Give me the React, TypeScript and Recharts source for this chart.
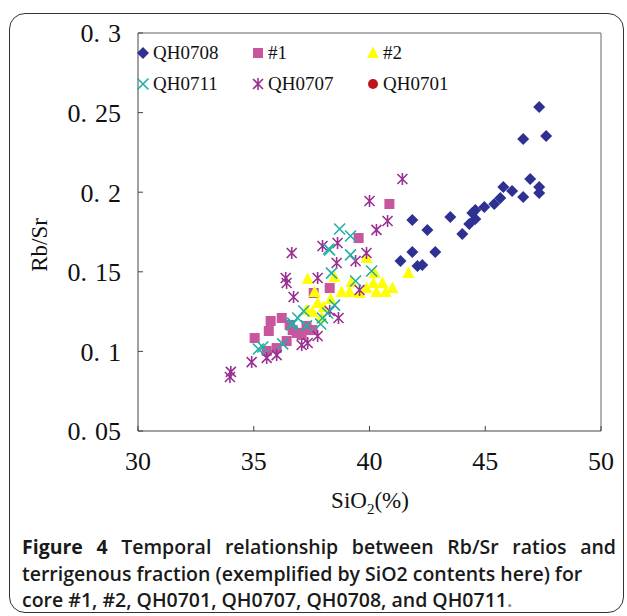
import React from "react";
import { ScatterChart, Scatter, XAxis, YAxis, ReferenceLine } from "recharts";

// SiO2 (%) / Rb/Sr pairs
const qh0708X = [47.33, 46.64, 47.63, 46.94, 45.78, 46.16, 46.64, 47.33, 47.33, 45.65, 45.39, 44.96, 44.57, 44.44, 44.57, 44.31, 44.01, 43.49, 41.85, 42.5, 41.85, 42.84, 41.34, 42.07, 42.28];
const qh0708Y = [0.2535, 0.2334, 0.2353, 0.2083, 0.2033, 0.2008, 0.197, 0.2033, 0.1995, 0.1964, 0.1926, 0.1907, 0.1888, 0.1869, 0.1832, 0.18, 0.1737, 0.1844, 0.1825, 0.1763, 0.1624, 0.1624, 0.1568, 0.1536, 0.1543];

const core1X = [35.04, 35.65, 35.73, 36.21, 35.56, 35.99, 36.42, 36.55, 36.85, 36.68, 36.98, 37.33, 37.54, 37.07, 37.28, 37.59, 38.28, 39.53, 40.86];
const core1Y = [0.1084, 0.1128, 0.1191, 0.121, 0.1003, 0.1021, 0.1065, 0.1166, 0.1116, 0.1134, 0.1116, 0.1134, 0.1134, 0.1103, 0.116, 0.1367, 0.1398, 0.1712, 0.1926];

const core2X = [39.87, 41.68, 37.33, 38.49, 40.22, 39.22, 38.79, 39.14, 39.57, 39.87, 40.17, 40.3, 40.56, 40.69, 40.99, 37.63, 37.76, 38.32, 38.02, 37.54, 37.28, 37.93];
const core2Y = [0.1587, 0.1492, 0.1455, 0.1467, 0.1492, 0.1436, 0.1373, 0.1373, 0.1367, 0.1398, 0.143, 0.1373, 0.143, 0.1373, 0.1398, 0.1373, 0.1304, 0.1329, 0.1279, 0.1247, 0.126, 0.1216];

const qh0711X = [35.39, 35.2, 36.25, 36.64, 36.9, 38.28, 39.18, 38.36, 40.09, 39.4, 37.16, 38.49, 38.19, 37.97, 37.89, 37.28, 36.68, 38.71, 39.18, 38.23];
const qh0711Y = [0.1028, 0.1015, 0.1047, 0.1166, 0.121, 0.1637, 0.1606, 0.1492, 0.1505, 0.1442, 0.1254, 0.1291, 0.1241, 0.121, 0.1172, 0.116, 0.1178, 0.1769, 0.1725, 0.1643];

const qh0707X = [34.01, 33.97, 34.91, 35.56, 35.99, 36.64, 38.58, 39.4, 39.87, 36.38, 36.42, 37.76, 36.72, 39.57, 38.28, 38.66, 37.76, 41.42, 40.0, 40.78, 40.3, 38.62, 37.97, 37.07, 37.33];
const qh0707Y = [0.0871, 0.0839, 0.0933, 0.0959, 0.0977, 0.1618, 0.1555, 0.1568, 0.1618, 0.1461, 0.143, 0.1461, 0.1342, 0.1386, 0.1254, 0.121, 0.1097, 0.2083, 0.1945, 0.1819, 0.1763, 0.1681, 0.1662, 0.104, 0.1053];

const qh0701X: number[] = [];
const qh0701Y: number[] = [];

const xTicks = [30, 35, 40, 45, 50];
const yTicks = [0.05, 0.1, 0.15, 0.2, 0.25, 0.3];

const pairs = (xs: number[], ys: number[]) => xs.map((x, i) => ({ x, y: ys[i] }));

const BLUE = "#2e3192";
const PINK = "#c9559d";
const YELLOW = "#ffff00";
const TEAL = "#1fb0a6";
const PURPLE = "#9a2f92";
const RED = "#c0141c";

const serif = "'Liberation Serif', 'DejaVu Serif', serif";

const Diamond = ({ cx, cy, fill }: any) => (
  <path d={`M${cx},${cy - 6}L${cx + 6},${cy}L${cx},${cy + 6}L${cx - 6},${cy}Z`} fill={fill} />
);
const Square = ({ cx, cy, fill }: any) => <rect x={cx - 5} y={cy - 5} width={10} height={10} fill={fill} />;
const Triangle = ({ cx, cy, fill }: any) => (
  <path d={`M${cx},${cy - 6.5}L${cx + 6},${cy + 5}L${cx - 6},${cy + 5}Z`} fill={fill} />
);
const Cross = ({ cx, cy, fill }: any) => (
  <path d={`M${cx - 5.5},${cy - 5.5}L${cx + 5.5},${cy + 5.5}M${cx + 5.5},${cy - 5.5}L${cx - 5.5},${cy + 5.5}`} stroke={fill} strokeWidth={1.6} />
);
const Star = ({ cx, cy, fill }: any) => (
  <path
    d={`M${cx - 5},${cy - 5}L${cx + 5},${cy + 5}M${cx + 5},${cy - 5}L${cx - 5},${cy + 5}M${cx},${cy - 6}L${cx},${cy + 6}`}
    stroke={fill}
    strokeWidth={1.6}
  />
);
const Dot = ({ cx, cy, fill }: any) => <circle cx={cx} cy={cy} r={5} fill={fill} />;

const legendRows = [
  [
    { name: "QH0708", color: BLUE, Shape: Diamond },
    { name: "#1", color: PINK, Shape: Square },
    { name: "#2", color: YELLOW, Shape: Triangle },
  ],
  [
    { name: "QH0711", color: TEAL, Shape: Cross },
    { name: "QH0707", color: PURPLE, Shape: Star },
    { name: "QH0701", color: RED, Shape: Dot },
  ],
];

const LegendBox = () => (
  <div style={{ position: "absolute", left: 136, top: 37, fontFamily: serif, fontSize: 19, color: "#111" }}>
    {legendRows.map((row, r) => (
      <div key={r} style={{ display: "flex", height: 31, alignItems: "center" }}>
        {row.map((it) => (
          <div key={it.name} style={{ width: 115, display: "flex", alignItems: "center" }}>
            <svg width={14} height={14} style={{ marginRight: 3 }}>
              <it.Shape cx={7} cy={7} fill={it.color} />
            </svg>
            <span>{it.name}</span>
          </div>
        ))}
      </div>
    ))}
  </div>
);

const YTick = ({ x, y, payload }: any) => {
  const s = String(payload.value);
  const [a, b] = s.split(".");
  return (
    <text x={x} y={y} dy="0.36em" textAnchor="end" fontFamily={serif} fontSize={26} fill="#111">
      <tspan>{a}.</tspan>
      <tspan dx={8}>{b}</tspan>
    </text>
  );
};

export default function App() {
  return (
    <div style={{ position: "fixed", left: 0, top: 0, width: 627, height: 616, overflow: "hidden", background: "#fff" }}>
      <div
        style={{
          position: "absolute",
          left: 9,
          top: 13,
          width: 613,
          height: 598,
          border: "1.5px solid #333",
          borderRadius: 16,
        }}
      />
      <div style={{ position: "absolute", left: 0, top: 0 }}>
        <ScatterChart width={627} height={616} margin={{ top: 33, right: 26, bottom: 155, left: 78 }}>
          <XAxis
            type="number"
            dataKey="x"
            domain={[30, 50]}
            ticks={xTicks}
            height={30}
            tickSize={-5}
            tickMargin={26}
            stroke="#444"
            tick={{ fontFamily: serif, fontSize: 26, fill: "#111" }}
            allowDataOverflow
          />
          <YAxis
            type="number"
            dataKey="y"
            domain={[0.05, 0.3]}
            ticks={yTicks}
            width={60}
            tickSize={-5}
            tickMargin={22}
            stroke="#444"
            tick={<YTick />}
            allowDataOverflow
          />
          <ReferenceLine y={0.3} stroke="#999" strokeWidth={1.5} />
          <ReferenceLine x={50} stroke="#999" strokeWidth={1.5} />
          <Scatter name="QH0701" data={pairs(qh0701X, qh0701Y)} fill={RED} shape={<Dot />} isAnimationActive={false} />
          <Scatter name="QH0708" data={pairs(qh0708X, qh0708Y)} fill={BLUE} shape={<Diamond />} isAnimationActive={false} />
          <Scatter name="#1" data={pairs(core1X, core1Y)} fill={PINK} shape={<Square />} isAnimationActive={false} />
          <Scatter name="#2" data={pairs(core2X, core2Y)} fill={YELLOW} shape={<Triangle />} isAnimationActive={false} />
          <Scatter name="QH0707" data={pairs(qh0707X, qh0707Y)} fill={PURPLE} shape={<Star />} isAnimationActive={false} />
          <Scatter name="QH0711" data={pairs(qh0711X, qh0711Y)} fill={TEAL} shape={<Cross />} isAnimationActive={false} />
        </ScatterChart>
      </div>
      <LegendBox />
      <div
        style={{
          position: "absolute",
          left: 40,
          top: 245,
          transform: "translate(-50%, -50%) rotate(-90deg)",
          fontFamily: serif,
          fontSize: 23,
          color: "#111",
          whiteSpace: "nowrap",
        }}
      >
        Rb/Sr
      </div>
      <div
        style={{
          position: "absolute",
          left: 370,
          top: 503,
          transform: "translate(-50%, -50%)",
          fontFamily: serif,
          fontSize: 23,
          color: "#111",
          whiteSpace: "nowrap",
        }}
      >
        SiO<sub style={{ fontSize: 15 }}>2</sub>(%)
      </div>
      <div
        style={{
          position: "absolute",
          left: 22,
          top: 534,
          width: 594,
          fontFamily: "'Open Sans', sans-serif",
          fontSize: 19.5,
          fontWeight: 600,
          lineHeight: "26.5px",
          color: "#1a1a1a",
          whiteSpace: "nowrap",
        }}
      >
        <div style={{ textAlign: "justify", textAlignLast: "justify", whiteSpace: "normal" }}>
          <b style={{ fontWeight: 700 }}>Figure 4</b> Temporal relationship between Rb/Sr ratios and
        </div>
        <div>terrigenous fraction (exemplified by SiO2 contents here) for</div>
        <div>
          core #1, #2, QH0701, QH0707, QH0708, and QH0711<span style={{ color: "#888" }}>.</span>
        </div>
      </div>
    </div>
  );
}
